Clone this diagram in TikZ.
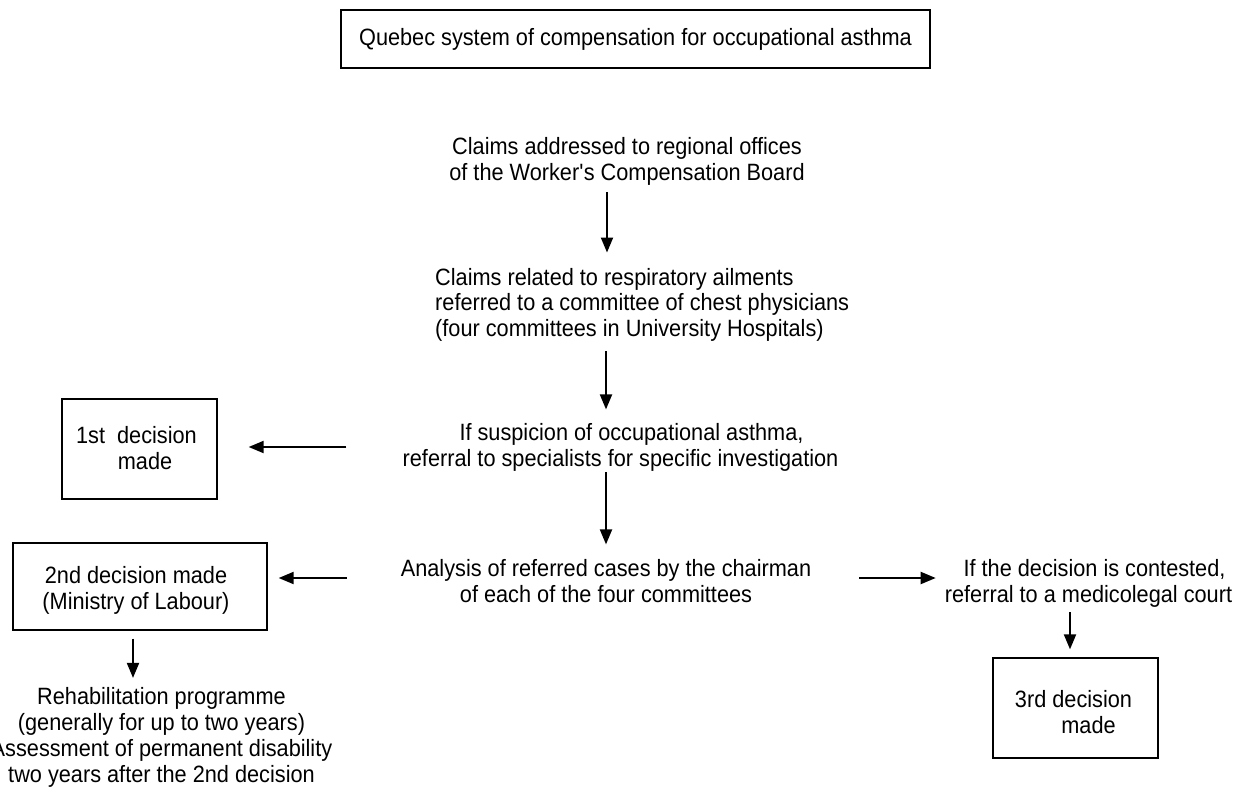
\documentclass[tikz,border=0pt]{standalone}
\usepackage{fontspec}
\setmainfont[FakeStretch=0.92]{Liberation Sans}
\usetikzlibrary{arrows.meta}
\begin{document}
\begin{tikzpicture}[x=1pt,y=-1pt,
  txt/.style={font=\fontsize{23.6}{25.5}\selectfont, inner sep=0pt, align=center, anchor=base},
  box/.style={draw=black, line width=1.3pt, inner sep=0pt},
  arr/.style={line width=2pt, -{Triangle[length=15pt,width=12pt]}}]
\useasboundingbox (0,0) rectangle (1237,787);
% lanes
\coordinate (colC) at (606,0);
\coordinate (colA) at (607,0);
\coordinate (colL) at (133,0);
\coordinate (colR) at (1070,0);
\coordinate (rowL1) at (0,447);
\coordinate (rowM) at (0,578);
% title
\node[box, minimum width=589pt, minimum height=58pt, font=\fontsize{23.6}{25.5}\selectfont] (title) at (635.5,39) {Quebec system of compensation for occupational asthma};
% central column
\node[txt] (claimsA) at (627,180) {Claims addressed to regional offices\\of the Worker\textquotesingle s Compensation Board};
\node[txt, align=left, anchor=base west] (claimsB) at (435,336) {Claims related to respiratory ailments\\referred to a committee of chest physicians\\(four committees in University Hospitals)};
\node[txt] (susp) at (620.5,466) {\hspace*{22pt}If suspicion of occupational asthma,\\referral to specialists for specific investigation};
\node[txt] (anal) at (606,602) {Analysis of referred cases by the chairman\\of each of the four committees};
% left
\node[box, minimum width=155pt, minimum height=100pt] (box1) at (139.5,449) {};
\node[txt] (t1) at (136.5,469) {1st\ \ decision\\\hspace*{17pt}made};
\node[box, minimum width=254pt, minimum height=87pt] (box2) at (140,586.5) {};
\node[txt] (t2) at (136,609) {2nd decision made\\(Ministry of Labour)};
\node[txt, font=\fontsize{23.6}{26}\selectfont] (rehab) at (161.5,782) {Rehabilitation programme\\(generally for up to two years)\\Assessment of permanent disability\\two years after the 2nd decision};
% right
\node[txt] (contest) at (1088.5,602) {\hspace*{12pt}If the decision is contested,\\referral to a medicolegal court};
\node[box, minimum width=165pt, minimum height=100pt] (box3) at (1075.5,708) {};
\node[txt] (t3) at (1073.5,733) {3rd decision\\\hspace*{30pt}made};
% arrows
\draw[arr, shorten <=7pt, shorten >=15.2pt] (claimsA.south -| colA) -- (claimsB.north -| colA);
\draw[arr, shorten <=10pt, shorten >=13.8pt] (claimsB.south -| colC) -- (susp.north -| colC);
\draw[arr, shorten <=1pt, shorten >=14.8pt] (susp.south -| colC) -- (anal.north -| colC);
\draw[arr, shorten <=56pt, shorten >=31pt] (susp.west |- rowL1) -- (box1.east |- rowL1);
\draw[arr, shorten <=54pt, shorten >=11pt] (anal.west |- rowM) -- (box2.east |- rowM);
\draw[arr, shorten <=48pt, shorten >=9pt] (anal.east |- rowM) -- (contest.west |- rowM);
\draw[arr, shorten <=8pt, shorten >=8.8pt] (box2.south -| colL) -- (rehab.north -| colL);
\draw[arr, shorten <=5pt, shorten >=8pt] (contest.south -| colR) -- (box3.north -| colR);
\end{tikzpicture}
\end{document}
